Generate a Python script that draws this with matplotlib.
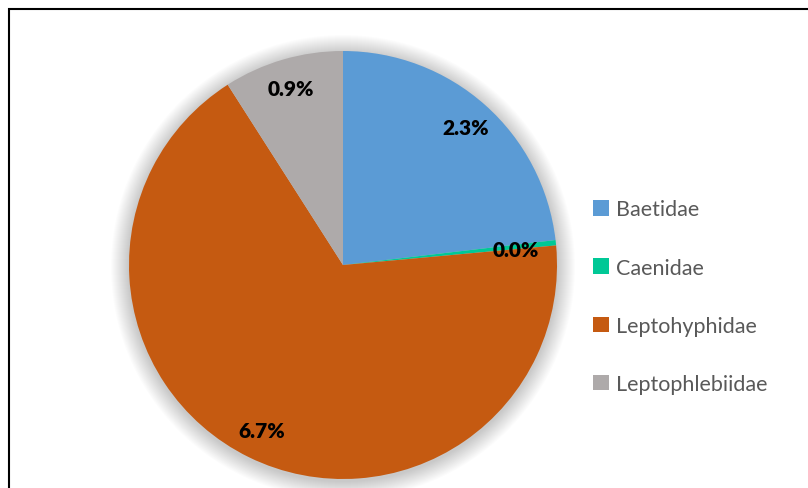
import matplotlib.pyplot as plt
from matplotlib.patches import Circle, Rectangle

families = ['Baetidae', 'Caenidae', 'Leptohyphidae', 'Leptophlebiidae']
values = [2.3, 0.04, 6.7, 0.9]
colors = ['#5B9BD5', '#00C896', '#C55A11', '#AEAAAA']

W, H = 808, 489
fig = plt.figure(figsize=(W / 100, H / 100), dpi=100)
ax = fig.add_axes([0, 0, 1, 1])
ax.set_xlim(0, W)
ax.set_ylim(0, H)
ax.set_aspect('equal')
ax.axis('off')

cx, cy, r = 343, H - 266, 214

# soft shadow behind the pie
for k in range(18, 0, -1):
    ax.add_patch(Circle((cx, cy - 2), r + k, color='black', alpha=0.01, lw=0, zorder=0))

total = sum(values)
wedges, texts, autotexts = ax.pie(
    values, colors=colors, center=(cx, cy), radius=r,
    startangle=90, counterclock=False,
    autopct=lambda p: '%.1f%%' % (p * total / 100),
    pctdistance=0.86, frame=True,
    wedgeprops=dict(linewidth=0),
    textprops=dict(fontsize=15, fontweight='heavy', color='black', family='Lato'))
autotexts[1].set_position((cx + 0.81 * r * 0.995, cy + 0.81 * r * 0.09))
ax.set_xlim(0, W)
ax.set_ylim(0, H)
ax.axis('off')

leg = ax.legend(wedges, families, loc='upper left', bbox_to_anchor=(574 / W, 1 - 181 / H),
                frameon=False, handlelength=0.72, handleheight=0.72, handletextpad=0.33,
                labelspacing=1.78, prop=dict(family='Lato', size=15.5))
for t in leg.get_texts():
    t.set_color('#595959')

# chart border (cropped at right and bottom)
fig.patches.append(Rectangle((9 / W, -0.1), 1.2, 1 - 10 / H + 0.1, transform=fig.transFigure,
                             fill=False, edgecolor='black', lw=1.5))

fig.savefig('out.png', dpi=100)
